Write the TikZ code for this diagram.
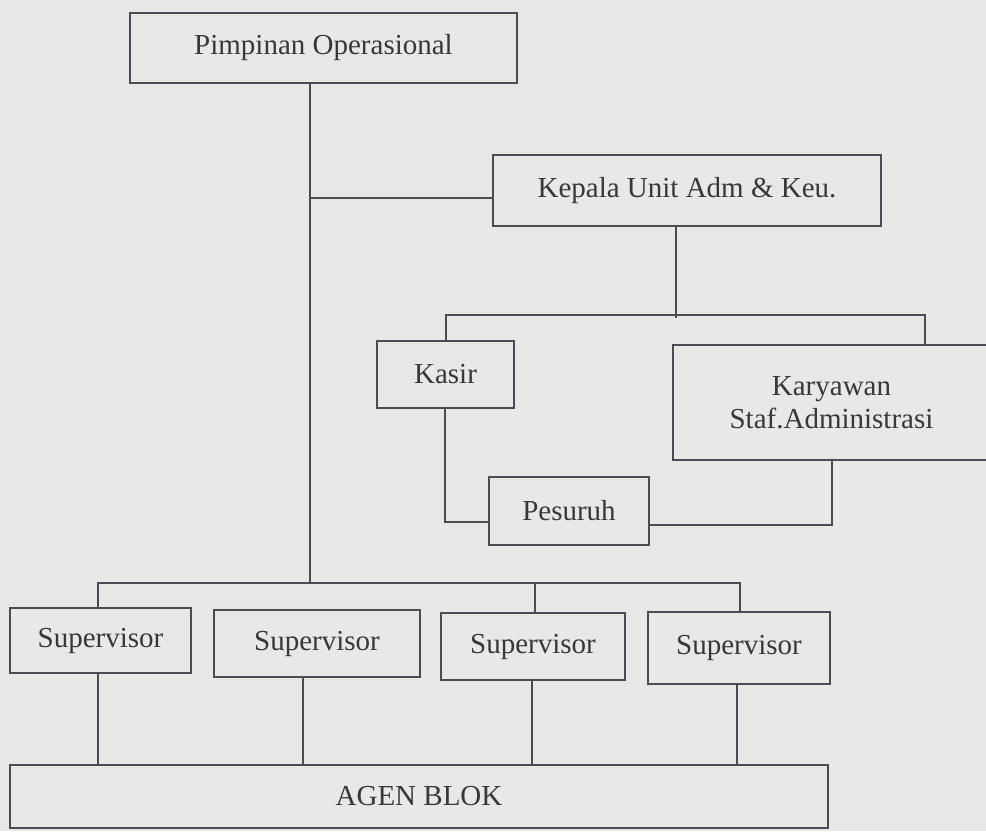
\documentclass[tikz,border=0pt]{standalone}
\usepackage{fontspec}
\setmainfont{Liberation Serif}
\definecolor{bg}{RGB}{232,232,232}
\definecolor{lc}{RGB}{78,74,84}
\definecolor{tc}{RGB}{55,55,60}
\begin{document}
\begin{tikzpicture}[x=1pt,y=-1pt,
  box/.style={draw=lc, line width=1.8pt, inner sep=0pt, text=tc,
    font=\fontsize{29}{33}\selectfont, align=center},
  conn/.style={draw=lc, line width=1.6pt}]
\fill[bg] (0,0) rectangle (986,831);
\clip (0,0) rectangle (986,831);
% boxes
\node[box, minimum width=387pt, minimum height=70pt] (po) at (323.5,48) {Pimpinan Operasional};
\node[box, minimum width=388pt, minimum height=71pt] (ku) at (687,190.5) {Kepala Unit Adm \& Keu.};
\node[box, minimum width=137pt, minimum height=67pt] (ka) at (445.5,374.5) {Kasir};
\node[box, minimum width=317pt, minimum height=115pt] (ky) at (831.5,402.5) {Karyawan\\Staf.Administrasi};
\node[box, minimum width=160pt, minimum height=68pt] (ps) at (569,511) {Pesuruh};
\node[box, minimum width=181pt, minimum height=65pt] (sa) at (100.5,640.5) {Supervisor};
\node[box, minimum width=206pt, minimum height=67pt] (sb) at (317,643.5) {Supervisor};
\node[box, minimum width=184pt, minimum height=67pt] (sc) at (533,646.5) {Supervisor};
\node[box, minimum width=182pt, minimum height=72pt] (sd) at (739,648) {Supervisor};
\node[box, minimum width=818pt, minimum height=63pt] (ag) at (419,796.5) {AGEN BLOK};
% junction coordinates
\coordinate (j1) at (310,198);
\coordinate (j2) at (310,583);
\coordinate (kb) at (676,318);
\coordinate (ab) at (446,315);
\coordinate (cb) at (925,315);
\coordinate (kp) at (445,522);
\coordinate (pk) at (832,525);
\coordinate (s1) at (98,583);
\coordinate (s3) at (535,583);
\coordinate (s4) at (740,583);
\coordinate (d1) at (98,765);
\coordinate (d2) at (303,765);
\coordinate (d3) at (532,765);
\coordinate (d4) at (737,765);
% connectors
\draw[conn] (po.south -| j1) -- (j2);
\draw[conn] (j1) -- (j1 -| ku.west);
\draw[conn] (ku.south -| kb) -- (kb);
\draw[conn] (ka.north -| ab) -- (ab) -- (cb) -- (ky.north -| cb);
\draw[conn] (ka.south -| kp) -- (kp) -- (kp -| ps.west);
\draw[conn] (ps.east |- pk) -- (pk) -- (ky.south -| pk);
\draw[conn] (sa.north -| s1) -- (s1) -- (s4) -- (sd.north -| s4);
\draw[conn] (s3) -- (sc.north -| s3);
\draw[conn] (sa.south -| d1) -- (ag.north -| d1);
\draw[conn] (sb.south -| d2) -- (ag.north -| d2);
\draw[conn] (sc.south -| d3) -- (ag.north -| d3);
\draw[conn] (sd.south -| d4) -- (ag.north -| d4);
\end{tikzpicture}
\end{document}
